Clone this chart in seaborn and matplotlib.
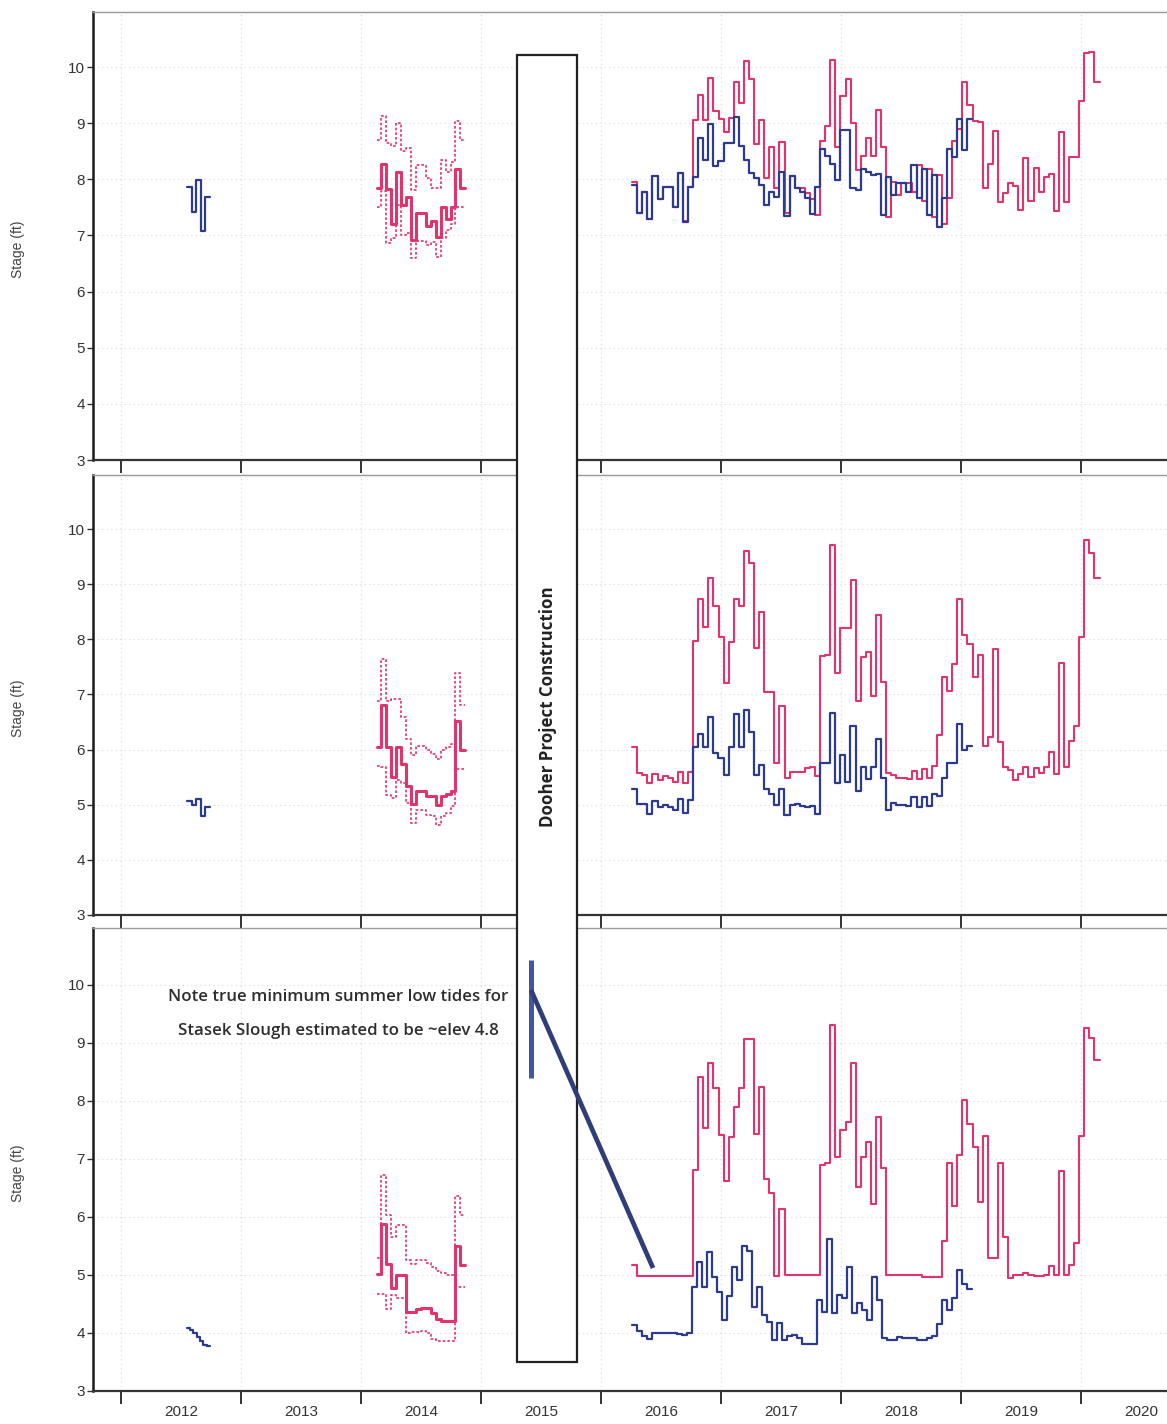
import numpy as np
import pandas as pd
import matplotlib
matplotlib.use("Agg")
import matplotlib.pyplot as plt
from matplotlib.lines import Line2D
from matplotlib.patches import Rectangle
import seaborn as sns

# ---------------- data ----------------
years = [2012, 2013, 2014, 2015, 2016, 2017, 2018, 2019, 2020]
year_labels = [str(y) for y in years]
y_ticks = [3, 4, 5, 6, 7, 8, 9, 10]

# time spans (decimal years) of each record
span_2012 = (2012.55, 2012.74)
span_2014 = (2014.13, 2014.87)
span_red = (2016.26, 2020.155)
span_blue = (2016.26, 2019.095)

# ---- panel 1 ----
p1_blue_2012 = [7.86, 7.42, 7.98, 7.08, 7.69]
p1_red_2014 = [7.84, 8.28, 7.82, 7.21, 8.13, 7.54, 7.69, 6.92, 7.40, 7.40,
               7.17, 7.26, 6.98, 7.51, 7.30, 7.50, 8.18, 7.84]
p1_red_2014_hi = [8.70, 9.13, 8.64, 8.59, 9.00, 8.50, 8.55, 7.81, 8.25, 8.25,
                  8.02, 7.85, 7.85, 8.35, 8.13, 8.30, 9.04, 8.70]
p1_red_2014_lo = [7.50, 7.80, 6.86, 6.95, 7.55, 7.00, 7.05, 6.59, 6.90, 6.90,
                  6.83, 6.88, 6.62, 6.95, 7.10, 7.21, 7.50, 7.50]
p1_red = [7.96, 7.40, 7.78, 7.29, 8.06, 7.65, 7.87, 7.87, 7.51, 8.11,
          7.26, 7.87, 9.06, 9.50, 9.06, 9.80, 9.21, 9.07, 8.85, 9.09,
          9.73, 9.36, 10.11, 9.79, 8.63, 9.06, 8.02, 8.58, 7.84, 8.67,
          7.40, 8.06, 7.84, 7.84, 7.75, 7.65, 7.36, 8.69, 8.95, 10.12,
          8.58, 9.49, 9.79, 9.00, 8.17, 8.42, 8.74, 8.42, 9.23, 8.57,
          7.32, 7.96, 7.72, 7.93, 7.93, 7.78, 8.25, 7.62, 8.19, 7.33,
          8.08, 7.20, 7.67, 8.69, 8.90, 9.74, 9.33, 9.04, 9.02, 7.84,
          8.28, 8.86, 7.59, 7.75, 7.93, 7.88, 7.46, 8.38, 7.61, 8.20,
          7.78, 8.04, 8.09, 7.43, 8.85, 7.59, 8.40, 8.40, 9.40, 10.25,
          10.27, 9.74]
p1_blue = [7.90, 7.40, 7.78, 7.29, 8.06, 7.65, 7.87, 7.87, 7.51, 8.11,
           7.24, 7.87, 8.04, 8.73, 8.35, 8.98, 8.23, 8.32, 8.64, 8.64,
           9.11, 8.59, 8.35, 8.11, 8.02, 7.90, 7.55, 7.78, 7.69, 8.13,
           7.34, 8.06, 7.84, 7.78, 7.67, 7.39, 7.87, 8.54, 8.42, 8.28,
           7.99, 8.88, 8.88, 7.84, 7.81, 8.19, 8.13, 8.08, 8.10, 7.36,
           8.04, 7.72, 7.93, 7.93, 7.78, 8.25, 7.67, 8.19, 7.36, 8.08,
           7.15, 7.67, 8.54, 8.39, 9.08, 8.52, 9.08]

# ---- panel 2 ----
p2_blue_2012 = [5.07, 5.00, 5.10, 4.80, 4.95]
p2_red_2014 = [6.05, 6.81, 6.04, 5.50, 6.05, 5.74, 5.34, 5.01, 5.24, 5.24,
               5.15, 5.15, 5.00, 5.15, 5.20, 5.25, 6.52, 5.99]
p2_red_2014_hi = [6.89, 7.65, 6.89, 6.91, 6.91, 6.60, 6.19, 5.90, 6.07, 6.07,
                  5.99, 5.92, 5.83, 5.99, 6.04, 6.11, 7.38, 6.81]
p2_red_2014_lo = [5.70, 5.69, 5.18, 5.12, 5.45, 5.40, 5.03, 4.66, 4.90, 4.90,
                  4.82, 4.80, 4.63, 4.80, 4.85, 4.97, 5.64, 5.64]
p2_red = [6.04, 5.58, 5.54, 5.39, 5.56, 5.45, 5.53, 5.48, 5.42, 5.60,
          5.39, 5.60, 7.97, 8.74, 8.22, 9.11, 8.60, 8.04, 7.20, 7.96,
          8.74, 8.60, 9.61, 9.38, 7.84, 8.50, 7.05, 7.05, 5.75, 6.79,
          5.48, 5.60, 5.60, 5.59, 5.66, 5.69, 5.52, 7.70, 7.72, 9.71,
          7.38, 8.20, 8.20, 9.08, 6.88, 7.68, 7.77, 6.97, 8.44, 7.23,
          5.58, 5.54, 5.49, 5.49, 5.46, 5.62, 5.46, 5.64, 5.48, 5.70,
          6.26, 7.32, 7.06, 7.56, 8.73, 8.08, 7.91, 7.32, 7.72, 6.06,
          6.23, 7.82, 6.13, 5.68, 5.63, 5.44, 5.56, 5.68, 5.50, 5.66,
          5.57, 5.68, 5.95, 5.55, 7.57, 5.68, 6.15, 6.42, 8.04, 9.81,
          9.56, 9.11]
p2_blue = [5.28, 5.02, 5.02, 4.84, 5.06, 4.96, 4.99, 4.95, 4.91, 5.11,
           4.85, 5.08, 6.05, 6.29, 6.05, 6.59, 5.93, 5.84, 5.54, 6.05,
           6.64, 6.05, 6.72, 6.32, 5.54, 5.72, 5.28, 5.20, 4.99, 5.28,
           4.81, 4.99, 5.02, 4.97, 4.95, 4.98, 4.83, 5.75, 5.75, 6.66,
           5.39, 5.90, 5.42, 6.42, 5.24, 5.69, 5.46, 5.69, 6.20, 5.48,
           4.91, 5.03, 4.99, 4.99, 4.97, 5.14, 4.96, 5.14, 4.97, 5.20,
           5.15, 5.48, 5.75, 5.75, 6.46, 5.99, 6.06]

# ---- panel 3 ----
p3_blue_2012 = [4.08, 4.05, 4.00, 3.93, 3.87, 3.80, 3.78]
p3_red_2014 = [5.02, 5.88, 5.19, 4.77, 5.00, 5.00, 4.37, 4.37, 4.41, 4.43,
               4.43, 4.34, 4.24, 4.20, 4.20, 4.20, 5.50, 5.17]
p3_red_2014_hi = [5.30, 6.72, 6.03, 5.66, 5.86, 5.86, 5.26, 5.19, 5.25, 5.25,
                  5.20, 5.13, 5.07, 5.03, 5.00, 5.00, 6.36, 6.03]
p3_red_2014_lo = [4.68, 4.68, 4.41, 4.66, 4.60, 4.60, 4.00, 4.01, 4.02, 4.03,
                  4.00, 3.89, 3.87, 3.87, 3.87, 3.87, 4.79, 4.79]
p3_red = [5.17, 4.98, 4.98, 4.98, 4.98, 4.98, 4.98, 4.98, 4.98, 4.98,
          4.98, 4.98, 6.81, 8.42, 7.53, 8.65, 8.22, 7.41, 6.62, 7.38,
          7.90, 8.22, 9.06, 9.06, 7.43, 8.24, 6.66, 6.41, 4.98, 6.13,
          5.00, 5.00, 5.00, 5.00, 5.00, 5.00, 5.00, 6.89, 6.93, 9.31,
          7.04, 7.50, 7.63, 8.65, 6.52, 7.04, 7.30, 6.22, 7.72, 6.84,
          5.00, 5.00, 5.00, 5.00, 5.00, 5.00, 5.00, 4.97, 4.97, 4.97,
          4.97, 5.58, 6.93, 6.18, 7.07, 8.02, 7.61, 7.21, 6.26, 7.40,
          5.30, 5.30, 6.93, 5.66, 4.94, 5.00, 5.00, 5.03, 5.00, 4.98,
          4.98, 5.00, 5.15, 5.00, 6.79, 5.00, 5.18, 5.55, 7.40, 9.26,
          9.08, 8.71]
p3_blue = [4.14, 4.03, 3.94, 3.89, 4.00, 4.00, 4.00, 4.00, 4.00, 3.98,
           3.97, 4.00, 4.80, 5.23, 4.79, 5.39, 4.97, 4.71, 4.22, 4.63,
           5.14, 4.91, 5.50, 5.42, 4.45, 4.79, 4.31, 4.19, 3.88, 4.18,
           3.88, 3.95, 3.97, 3.91, 3.81, 3.81, 3.81, 4.56, 4.37, 5.62,
           4.34, 4.66, 4.60, 5.14, 4.34, 4.51, 4.40, 4.23, 4.96, 4.56,
           3.91, 3.88, 3.88, 3.93, 3.91, 3.91, 3.91, 3.88, 3.88, 3.91,
           3.95, 4.16, 4.57, 4.40, 4.60, 5.08, 4.84, 4.75]

panels = [
    (p1_blue_2012, p1_red_2014, p1_red_2014_hi, p1_red_2014_lo, p1_red, p1_blue),
    (p2_blue_2012, p2_red_2014, p2_red_2014_hi, p2_red_2014_lo, p2_red, p2_blue),
    (p3_blue_2012, p3_red_2014, p3_red_2014_hi, p3_red_2014_lo, p3_red, p3_blue),
]

RED = "#e2336b"
BLUE = "#2c3a8f"

# ---------------- style ----------------
sns.set_theme(style="white")
plt.rcParams["font.family"] = ["Liberation Sans", "DejaVu Sans"]

W, H = 1167, 1424
fig = plt.figure(figsize=(W / 100, H / 100), dpi=100)
fig.patch.set_facecolor("white")

panel_px = [(12, 460), (475, 915), (928, 1391)]
left_px = 93


def step_frame(span, vals):
    edges = np.linspace(span[0], span[1], len(vals) + 1)
    return pd.DataFrame({"t": edges, "v": list(vals) + [vals[-1]]})


def draw(ax, span, vals, color, lw, ls="-"):
    sns.lineplot(data=step_frame(span, vals), x="t", y="v", ax=ax,
                 color=color, linewidth=lw, linestyle=ls,
                 drawstyle="steps-post", estimator=None, sort=False,
                 legend=False)


for i, (top, bot) in enumerate(panel_px):
    ax = fig.add_axes([left_px / W, 1 - bot / H, 1 - left_px / W, (bot - top) / H])
    b12, r14, r14h, r14l, rr, bb = panels[i]

    dash = (0, (1.6, 1.2))
    draw(ax, span_2014, r14h, RED, 1.2, dash)
    draw(ax, span_2014, r14l, RED, 1.2, dash)
    draw(ax, span_2014, r14, RED, 2.2)
    draw(ax, span_2012, b12, BLUE, 1.6)
    draw(ax, span_red, rr, RED, 1.5)
    draw(ax, span_blue, bb, BLUE, 1.6)

    ax.set_xlim(2011.767, 2020.717)
    ax.set_ylim(3, 10.98)
    ax.set_yticks(y_ticks)
    ax.set_yticklabels([str(v) for v in y_ticks], fontsize=11, color="#333333")
    ax.set_xticks(years)
    ax.set_xticklabels([])
    ax.set_xticks([y + 0.5 for y in years], minor=True)
    if i == 2:
        ax.set_xticklabels(year_labels, minor=True, fontsize=11, color="#333333")
    else:
        ax.set_xticklabels([], minor=True)
    ax.tick_params(axis="x", which="major", direction="out", length=9, width=1.4,
                   color="#333333", bottom=True)
    ax.tick_params(axis="x", which="minor", length=0, pad=10, bottom=True)
    ax.tick_params(axis="y", which="major", direction="out", length=4, width=1.0,
                   color="#333333", pad=2, left=True)

    ax.grid(True, which="major", color="#d8d8d8", linestyle=(0, (1, 3)), linewidth=0.8)
    ax.set_axisbelow(True)

    ax.spines["left"].set_color("#1a1a1a")
    ax.spines["left"].set_linewidth(1.8)
    ax.spines["bottom"].set_color("#333333")
    ax.spines["bottom"].set_linewidth(1.6)
    ax.spines["top"].set_color("#9a9a9a")
    ax.spines["top"].set_linewidth(1.0)
    ax.spines["right"].set_visible(False)

    ax.set_xlabel("")
    ax.set_ylabel("Stage (ft)", fontsize=10, color="#444444")
    ax.yaxis.set_label_coords(-0.063, 0.47)

# ---------------- construction box ----------------
bx0, bx1, by0, by1 = 517, 577, 55, 1362
fig.add_artist(Rectangle((bx0 / W, 1 - by1 / H), (bx1 - bx0) / W, (by1 - by0) / H,
                         transform=fig.transFigure, facecolor="white",
                         edgecolor="#222222", linewidth=1.6, zorder=10))
fig.text((bx0 + bx1) / 2 / W + 0.001, 1 - 707 / H, "Dooher Project Construction",
         rotation=90, ha="center", va="center", fontsize=12.2, fontweight="bold",
         family=["Open Sans", "DejaVu Sans"], color="#222222", zorder=11)

# ---------------- note ----------------
fig.text(338 / W, 1 - 997 / H, "Note true minimum summer low tides for",
         ha="center", va="center", fontsize=12.2, fontweight="semibold",
         family=["Open Sans", "DejaVu Sans"], color="#2e2e2e", zorder=11)
fig.text(338 / W, 1 - 1031 / H, "Stasek Slough estimated to be ~elev 4.8",
         ha="center", va="center", fontsize=12.2, fontweight="semibold",
         family=["Open Sans", "DejaVu Sans"], color="#2e2e2e", zorder=11)

fig.add_artist(Line2D([531 / W, 531 / W], [1 - 960 / H, 1 - 1078 / H],
                      transform=fig.transFigure, color="#4257a0", linewidth=3.6,
                      solid_capstyle="butt", zorder=12))
fig.add_artist(Line2D([531 / W, 653 / W], [1 - 990 / H, 1 - 1268 / H],
                      transform=fig.transFigure, color="#2f3d78", linewidth=3.4,
                      solid_capstyle="butt", zorder=12))

fig.savefig("out.png", dpi=100)
